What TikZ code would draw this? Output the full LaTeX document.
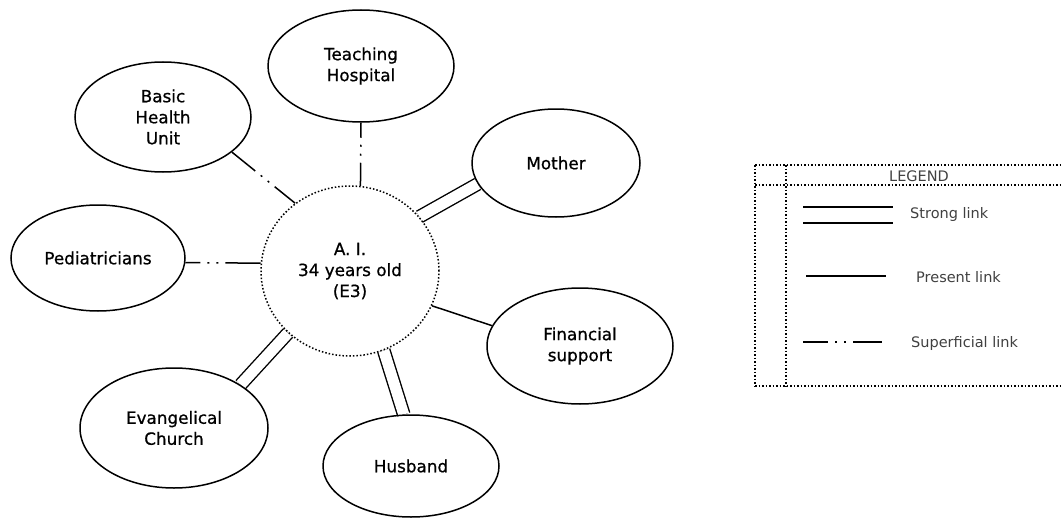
\documentclass[tikz,border=0pt]{standalone}
\usepackage{fontspec}
\setmainfont{DejaVu Sans}
\newfontfamily\nodefont{DejaVu Sans}[FakeBold=0.8]
\usetikzlibrary{shapes.geometric}
\pgfdeclarelayer{bg}
\pgfsetlayers{bg,main}
\begin{document}
\begin{tikzpicture}[x=1pt,y=-1pt,
  ell/.style={draw, ellipse, line width=1.5pt, inner sep=0pt, align=center,
    font=\nodefont\fontsize{16.8}{21}\selectfont},
  dotline/.style={line width=1.5pt, dash pattern=on 1.5pt off 2pt},
  centre/.style={ell, dotline},
  superficial/.style={line width=1.5pt, dash pattern=on #1 off 7pt on 2pt off 7pt on 2pt off 7pt on 100pt},
  superficial/.default=15pt,
  strong/.style={line width=1.4pt, double distance=11pt},
  present/.style={line width=1.5pt},
  legtext/.style={inner sep=0pt, text=black!75, font=\fontsize{14.5}{17}\selectfont}
]
\useasboundingbox (0,0) rectangle (1063,519);

% nodes
\node[centre, minimum width=178pt, minimum height=170pt] (ai) at (350,271) {A. I.\\34 years old\\(E3)};
\node[ell, minimum width=186pt, minimum height=112pt] (th) at (361,66) {Teaching\\Hospital};
\node[ell, minimum width=176pt, minimum height=110pt] (bhu) at (163,117) {Basic\\Health\\Unit};
\node[ell, minimum width=174pt, minimum height=106pt] (ped) at (98,258) {\raisebox{-4pt}{Pediatricians}};
\node[ell, minimum width=168pt, minimum height=108pt] (mother) at (556,163) {Mother};
\node[ell, minimum width=186pt, minimum height=116pt] (fin) at (580,346) {Financial\\support};
\node[ell, minimum width=188pt, minimum height=120pt] (evc) at (174,428) {Evangelical\\Church};
\node[ell, minimum width=176pt, minimum height=102pt] (hus) at (411,466) {\raisebox{-3pt}{Husband}};

% connectors
\begin{pgfonlayer}{bg}
\draw[superficial] (th.-90) -- (ai.83);
\draw[superficial=30pt] (bhu.-27) -- (ai.129);
\draw[superficial] (ped.-3) -- (ai.175);
\draw[strong] (mother.195) -- (ai.38);
\draw[present] (fin.167) -- (ai.-23);
\draw[strong] (hus.98) -- (ai.-67);
\draw[strong] (evc.33) -- (ai.-135);
\end{pgfonlayer}

% legend box
\draw[dotline] (755,165) -- (1070,165);
\draw[dotline] (755,185) -- (1070,185);
\draw[dotline] (755,386) -- (1070,386);
\draw[dotline] (755,165) -- (755,386);
\draw[dotline] (786,165) -- (786,386);
\node[legtext] (leg) at (919,176) {LEGEND};

% legend samples
\draw[present] (803,207) -- (893,207);
\draw[present] (803,223) -- (893,223);
\node[legtext, anchor=west] (lstrong) at (910,214) {Strong link};
\draw[present] (806,276) -- (886,276);
\node[legtext, anchor=west] (lpresent) at (916,277) {Present link};
\draw[superficial=25pt] (803,342) -- (882,342);
\node[legtext, anchor=west] (lsup) at (911,343) {Superficial link};
\end{tikzpicture}
\end{document}
